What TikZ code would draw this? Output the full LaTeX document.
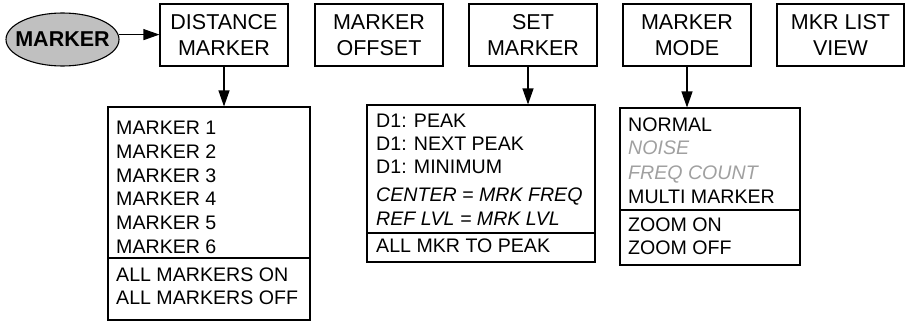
\documentclass[tikz,border=0pt]{standalone}
\usepackage{fontspec}
\setmainfont{Liberation Sans}
\usetikzlibrary{shapes.geometric,arrows.meta}
\definecolor{dimtext}{RGB}{160,160,160}
\definecolor{ellfill}{RGB}{192,192,192}
\tikzset{
  frame/.style={draw=black, line width=1.1pt},
  topbox/.style={frame, minimum width=128pt, minimum height=62pt, inner sep=0pt, align=center,
                 font=\fontsize{21.5}{26}\selectfont},
  listbox/.style={frame, inner sep=0pt},
  item/.style={anchor=base west, inner sep=0pt, font=\fontsize{19.6}{24}\selectfont},
  dimitem/.style={item, text=dimtext, font=\fontsize{19.6}{24}\selectfont\itshape},
  arr/.style={line width=1.1pt, -{Triangle[length=16pt,width=11pt]}},
}
\begin{document}
\begin{tikzpicture}[x=1pt,y=-1pt]
\useasboundingbox (0,0) rectangle (905,321);
% main ellipse
\node[ellipse, draw=black, line width=1.1pt, fill=ellfill, minimum width=113pt, minimum height=53pt, inner sep=0pt] (ell) at (62.5,39.5) {};
\node[inner sep=0pt, font=\fontsize{21.5}{26}\selectfont\bfseries] (elltext) at (ell.center) {MARKER};
% top boxes
\node[topbox] (dist) at (224,35) {DISTANCE\\MARKER};
\node[topbox] (offs) at (379,35) {MARKER\\OFFSET};
\node[topbox] (setm) at (533,35) {SET\\MARKER};
\node[topbox] (mode) at (687,35) {MARKER\\MODE};
\node[topbox, minimum width=127pt] (list) at (840.5,35) {MKR LIST\\VIEW};
% list boxes
\node[listbox, minimum width=202pt, minimum height=213pt] (dlist) at (209,213.5) {};
\node[listbox, minimum width=228pt, minimum height=157pt] (slist) at (481,183.5) {};
\node[listbox, minimum width=180pt, minimum height=157pt] (mlist) at (710,186.5) {};
% separators
\coordinate (dsep) at (0,258);
\coordinate (ssep) at (0,233);
\coordinate (msep) at (0,210);
\draw[frame] (dlist.west |- dsep) -- (dlist.east |- dsep);
\draw[frame] (slist.west |- ssep) -- (slist.east |- ssep);
\draw[frame] (mlist.west |- msep) -- (mlist.east |- msep);
% connectors
\draw[arr] (ell.5) -- (ell.5 -| dist.west);
\draw[arr] (dist.south) -- (dist.south |- dlist.north);
\draw[arr] ([xshift=-5pt]setm.south) -- ([xshift=-5pt]setm.south |- slist.north);
\draw[arr] (mode.south) -- (mode.south |- mlist.north);
% distance list items
\node[item] (d1) at (116,134) {MARKER 1};
\node[item] (d2) at (116,158) {MARKER 2};
\node[item] (d3) at (116,182) {MARKER 3};
\node[item] (d4) at (116,205.5) {MARKER 4};
\node[item] (d5) at (116,229.5) {MARKER 5};
\node[item] (d6) at (116,253) {MARKER 6};
\node[item] (d7) at (116,281) {ALL MARKERS ON};
\node[item] (d8) at (116,304.5) {ALL MARKERS OFF};
% set marker list items
\node[item] (s1) at (376,127.5) {D1: PEAK};
\node[item] (s2) at (376,150.5) {D1: NEXT PEAK};
\node[item] (s3) at (376,173.5) {D1: MINIMUM};
\node[item, font=\fontsize{19.6}{24}\selectfont\itshape] (s4) at (376,201.5) {CENTER = MRK FREQ};
\node[item, font=\fontsize{19.6}{24}\selectfont\itshape] (s5) at (376,225) {REF LVL = MRK LVL};
\node[item] (s6) at (376,252.5) {ALL MKR TO PEAK};
% marker mode list items
\node[item] (m1) at (628,131) {NORMAL};
\node[dimitem] (m2) at (628,154.5) {NOISE};
\node[dimitem] (m3) at (628,179) {FREQ COUNT};
\node[item] (m4) at (628,203) {MULTI MARKER};
\node[item] (m5) at (628,231) {ZOOM ON};
\node[item] (m6) at (628,254.5) {ZOOM OFF};
\end{tikzpicture}
\end{document}
